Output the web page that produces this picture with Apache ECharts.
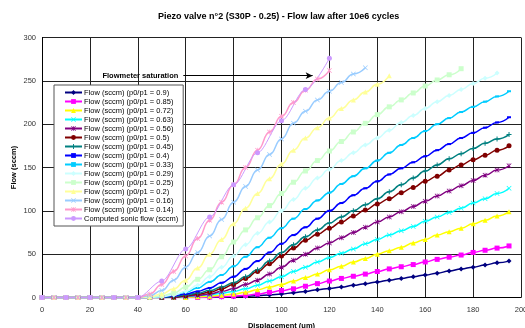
<!DOCTYPE html>
<html>
<head>
<meta charset="utf-8">
<script src="https://cdn.jsdelivr.net/npm/echarts@6/dist/echarts.min.js"></script>
<style>
  html, body { margin: 0; padding: 0; background: #fff; }
  #main { width: 525px; height: 328px; }
</style>
</head>
<body>
<div id="main"></div>
<script>
// displacement steps (um) shared by the measured curves
var disp = [0,5,10,15,20,25,30,35,40,45,50,55,60,65,70,75,80,85,90,95,
            100,105,110,115,120,125,130,135,140,145,150,155,160,165,170,175,180,185,190,195];
var sonicDisp = [0,10,20,30,40,50,60,70,80,90,100,110,120];

var f090 = [0,0,0,0,0,0,0,0,0,0,0,0,0,0,0,0.5,1,1.5,2,3,4,5.5,7,9,10.5,12,14,16,18,20,22,24,26,28,30.5,33,35,37.5,40,42];
var f085 = [0,0,0,0,0,0,0,0,0,0,0,0,0,0,0.5,1,1.5,2.5,4,6,8,10,13,16,19,22,24.5,27,30,33,35.5,38,41,44,46.5,49,52,54.5,57,59.5];
var f072 = [0,0,0,0,0,0,0,0,0,0,0,0,0,1,1.5,2.5,4,6,9,12,15,19,23,27,32,36,41,45,50,54,58,63,67,72,76,80,85,89,94,99];
var f063 = [0,0,0,0,0,0,0,0,0,0,0,0,1,2,3,5,7,10,14,19,24,30,35,41,46,51,56,62,67,72,77,82,88,93,98,103,109,114,120,126];
var f056 = [0,0,0,0,0,0,0,0,0,0,0,0,1.5,2.5,4,7,10,15,20,27,35,43,50,57,63,69,75,81,87,93,99,105,111,117,123,129,135,141,147,152];
var f050 = [0,0,0,0,0,0,0,0,0,0,0,0.5,2,4,6,10,15,22,30,39,48,57,66,73,80,87,94,101,108,114,121,127,134,140,147,153,159,164,170,175];
var f045 = [0,0,0,0,0,0,0,0,0,0,0,1,3,5,8,12,17,24,32,42,52,61,70,78,86,93,100,107,114,122,130,138,146,153,160,166,172,178,183,188];
var f040 = [0,0,0,0,0,0,0,0,0,0,0.5,2,4,7,11,17,24,33,42,52,62,72,81,91,100,109,118,126,134,142,149,156,163,170,177,184,190,196,202,208];
var f033 = [0,0,0,0,0,0,0,0,0,0,1,3,6,11,18,26,36,47,58,69,80,91,102,112,121,131,140,149,158,167,176,184,192,200,207,214,220,226,232,238];
var f029 = [0,0,0,0,0,0,0,0,0,0,1,3,7,14,24,35,48,61,74,87,100,113,126,138,148,158,167,176,184,193,202,210,218,226,233,240,247,253,259];
var f025 = [0,0,0,0,0,0,0,0,0,0.5,2,5,12,21,32,47,64,78,92,106,120,133,146,158,169,180,191,201,211,220,228,236,244,251,257,264];
var f020 = [0,0,0,0,0,0,0,0,0,1,4,10,20,34,50,67,85,103,120,137,154,170,184,196,207,218,228,237,246,256];
var f016 = [0,0,0,0,0,0,0,0,0,2,8,20,35,52,71,90,110,128,147,165,183,201,215,228,238,248,258,265];
var f014 = [0,0,0,0,0,0,0,0,0,4,15,30,48,68,89,110,130,150,170,191,209,225,239,252,262];
var sonic = [0,0,0,0,0,19,56,93,130,167,204,240,276];

var names = ['Flow (sccm) (p0/p1 = 0.9)','Flow (sccm) (p0/p1 = 0.85)','Flow (sccm) (p0/p1 = 0.72)',
  'Flow (sccm) (p0/p1 = 0.63)','Flow (sccm) (p0/p1 = 0.56)','Flow (sccm) (p0/p1 = 0.5)',
  'Flow (sccm) (p0/p1 = 0.45)','Flow (sccm) (p0/p1 = 0.4)','Flow (sccm) (p0/p1 = 0.33)',
  'Flow (sccm) (p0/p1 = 0.29)','Flow (sccm) (p0/p1 = 0.25)','Flow (sccm) (p0/p1 = 0.2)',
  'Flow (sccm) (p0/p1 = 0.16)','Flow (sccm) (p0/p1 = 0.14)','Computed sonic flow (sccm)'];

// flowmeter saturation arrow (data units)
var satLevel = 256, satFrom = 59, satTo = 113;

var xMark = 'path://M0,1L1,0L5,4L9,0L10,1L6,5L10,9L9,10L5,6L1,10L0,9L4,5Z';
var plusMark = 'path://M4,0H6V4H10V6H6V10H4V6H0V4H4Z';
var starMark = 'path://M0,1L1,0L5,4L9,0L10,1L6,5L10,9L9,10L5,6L1,10L0,9L4,5ZM4.4,0H5.6V10H4.4Z';

var font = 'Liberation Sans, Arial, sans-serif';

function pairs(xs, ys) {
    return ys.map(function (v, i) { return [xs[i], v]; });
}

function mk(name, xs, ys, color, symbol, size) {
    return {
        name: name,
        type: 'line',
        data: pairs(xs, ys),
        color: color,
        smooth: true,
        smoothMonotone: 'x',
        symbol: symbol,
        symbolSize: size,
        showAllSymbol: true,
        lineStyle: { width: 1.5, color: color },
        itemStyle: { color: color },
        animation: false
    };
}

var series = [
    mk(names[0], disp, f090, '#000080', 'diamond', 5),
    mk(names[1], disp, f085, '#ff00ff', 'rect', 5),
    mk(names[2], disp, f072, '#ffff00', 'triangle', 5),
    mk(names[3], disp, f063, '#00ffff', xMark, 5),
    mk(names[4], disp, f056, '#800080', starMark, 5),
    mk(names[5], disp, f050, '#800000', 'circle', 5),
    mk(names[6], disp, f045, '#008080', plusMark, 5),
    mk(names[7], disp, f040, '#0000ff', 'rect', [4, 2]),
    mk(names[8], disp, f033, '#00ccff', 'rect', [4, 2]),
    mk(names[9], disp, f029, '#ccffff', 'diamond', 5),
    mk(names[10], disp, f025, '#ccffcc', 'rect', 5),
    mk(names[11], disp, f020, '#ffff99', 'triangle', 5),
    mk(names[12], disp, f016, '#99ccff', xMark, 5),
    mk(names[13], disp, f014, '#ff99cc', starMark, 5),
    mk(names[14], sonicDisp, sonic, '#cc99ff', 'circle', 5)
];

series[14].smooth = 0.3;
series[14].lineStyle.width = 1;
series[14].markLine = {
    silent: true,
    animation: false,
    symbol: ['none', 'arrow'],
    symbolSize: [5, 7],
    lineStyle: { color: '#000', width: 1, type: 'solid' },
    label: {
        show: true,
        position: 'start',
        distance: 5,
        formatter: 'Flowmeter saturation',
        color: '#000',
        fontSize: 7.5,
        fontWeight: 'bold',
        fontFamily: font
    },
    data: [[{ coord: [satFrom, satLevel] }, { coord: [satTo, satLevel] }]]
};

var dom = document.getElementById('main');
var myChart = echarts.init(dom, null, { renderer: 'canvas' });

var option = {
    backgroundColor: '#fff',
    animation: false,
    title: {
        text: 'Piezo valve n°2 (S30P - 0.25) - Flow law after 10e6 cycles',
        left: 153,
        top: 7,
        textStyle: { fontSize: 9, fontWeight: 'bold', color: '#000', fontFamily: font }
    },
    legend: {
        data: names,
        orient: 'vertical',
        left: 54,
        top: 85,
        width: 125,
        padding: [3, 5, 3, 10],
        itemGap: 0,
        itemWidth: 17,
        itemHeight: 6,
        backgroundColor: '#fff',
        borderColor: '#555',
        borderWidth: 1,
        textStyle: { fontSize: 7.5, color: '#000', fontFamily: font, lineHeight: 9, padding: [0, 0, 0, -3] }
    },
    grid: { left: 42, right: 4, top: 37.5, bottom: 30.5, containLabel: false, outerBoundsMode: 'none' },
    xAxis: {
        type: 'value',
        min: 0, max: 200, interval: 20,
        name: 'Displacement (um)',
        nameLocation: 'middle',
        nameGap: 24,
        nameMoveOverlap: false,
        nameTextStyle: { fontSize: 7.5, fontWeight: 'bold', color: '#000', fontFamily: font },
        axisLine: { lineStyle: { color: '#000', width: 1 } },
        axisTick: { show: false },
        axisLabel: { fontSize: 7.5, color: '#333', margin: 8, fontFamily: font },
        splitLine: { show: true, lineStyle: { color: '#222', width: 1 } }
    },
    yAxis: {
        type: 'value',
        min: 0, max: 300, interval: 50,
        name: 'Flow (sccm)',
        nameLocation: 'middle',
        nameRotate: 90,
        nameGap: 24,
        nameMoveOverlap: false,
        nameTextStyle: { fontSize: 7.5, fontWeight: 'bold', color: '#000', fontFamily: font },
        axisLine: { show: true, lineStyle: { color: '#000', width: 1 } },
        axisTick: { show: false },
        axisLabel: { fontSize: 7.5, color: '#333', margin: 6, fontFamily: font },
        splitLine: { show: true, lineStyle: { color: '#222', width: 1 } }
    },
    series: series
};

if (option && typeof option === 'object') {
    myChart.setOption(option);
}

window.addEventListener('resize', myChart.resize);
</script>
</body>
</html>
